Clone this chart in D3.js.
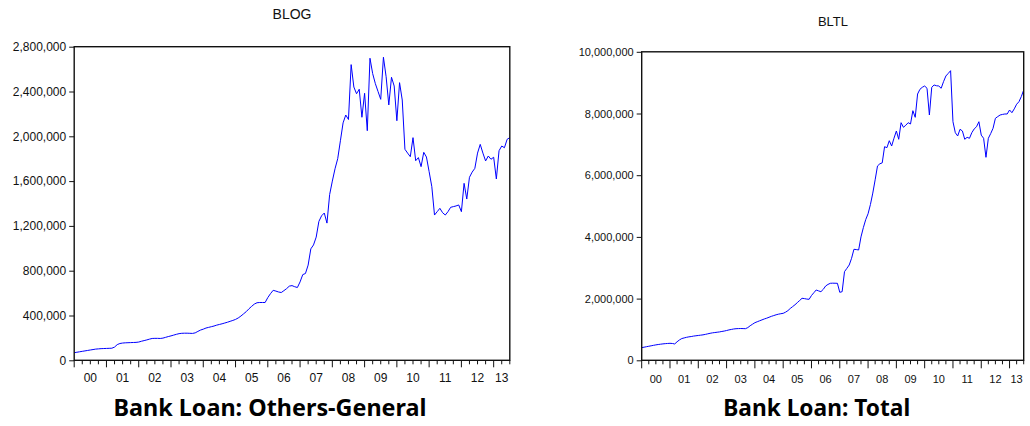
<!DOCTYPE html>
<html>
<head>
<meta charset="utf-8">
<script src="https://cdn.jsdelivr.net/npm/d3@7"></script>
<style>
  html, body { margin: 0; padding: 0; background: #fff; }
  svg { display: block; }
</style>
</head>
<body>
<svg id="chart" width="1030" height="426"></svg>
<script>
// Monthly series, Jan 2000 – Jul 2013 (163 observations)
const blog = [
  68000, 72000, 76000, 80000, 84000, 88000, 92000, 96000, 100000, 102000, 104000, 105000,
  106000, 107000, 108000, 118000, 140000, 150000, 154000, 156000, 157000, 158000, 159000, 160000,
  163000, 170000, 176000, 182000, 189000, 195000, 196000, 196000, 195000, 198000, 205000, 212000,
  218000, 225000, 232000, 238000, 241000, 242000, 242000, 241000, 240000, 245000, 258000, 270000,
  278000, 288000, 294000, 300000, 306000, 314000, 320000, 326000, 333000, 340000, 348000, 356000,
  365000, 378000, 395000, 415000, 435000, 460000, 482000, 502000, 514000, 516000, 516000, 516000,
  560000, 595000, 625000, 618000, 610000, 605000, 622000, 640000, 662000, 667000, 657000, 650000,
  700000, 765000, 775000, 850000, 995000, 1030000, 1100000, 1240000, 1290000, 1315000, 1225000, 1480000,
  1600000, 1710000, 1800000, 1960000, 2120000, 2190000, 2150000, 2640000, 2440000, 2380000, 2420000, 2170000,
  2384000, 2050000, 2697000, 2560000, 2470000, 2400000, 2330000, 2706000, 2532000, 2280000, 2527000, 2449000,
  2139000, 2479000, 2324000, 1884000, 1850000, 1818000, 1988000, 1782000, 1810000, 1729000, 1857000, 1815000,
  1684000, 1550000, 1297000, 1327000, 1357000, 1318000, 1297000, 1327000, 1366000, 1372000, 1378000, 1387000,
  1327000, 1580000, 1440000, 1634000, 1680000, 1714000, 1850000, 1928000, 1850000, 1780000, 1824000, 1795000,
  1813000, 1619000, 1871000, 1913000, 1898000, 1973000, 1988000
];

const bltl = [
  410000, 425000, 440000, 455000, 470000, 485000, 500000, 512000, 522000, 532000, 540000, 546000,
  551000, 545000, 530000, 600000, 660000, 705000, 725000, 745000, 760000, 770000, 785000, 795000,
  805000, 815000, 825000, 840000, 858000, 875000, 890000, 900000, 910000, 920000, 935000, 948000,
  965000, 985000, 1000000, 1015000, 1024000, 1028000, 1030000, 1028000, 1025000, 1060000, 1120000, 1170000,
  1219000, 1250000, 1280000, 1310000, 1340000, 1365000, 1395000, 1425000, 1450000, 1475000, 1495000, 1510000,
  1523000, 1560000, 1610000, 1680000, 1740000, 1800000, 1870000, 1940000, 2010000, 2000000, 1985000, 1977000,
  2100000, 2190000, 2279000, 2250000, 2224000, 2300000, 2408000, 2460000, 2496000, 2500000, 2498000, 2496000,
  2204000, 2224000, 2872000, 2980000, 3089000, 3306000, 3598000, 3590000, 3575000, 4000000, 4300000, 4560000,
  4750000, 5050000, 5420000, 5850000, 6300000, 6370000, 6400000, 6924000, 6892000, 7118000, 6946000, 7200000,
  7433000, 7164000, 7702000, 7553000, 7620000, 7702000, 7660000, 8091000, 7876000, 8632000, 8785000, 8850000,
  8891000, 8817000, 7951000, 8849000, 8924000, 8900000, 8891000, 8817000, 9031000, 9216000, 9300000, 9388000,
  7734000, 7378000, 7271000, 7488000, 7433000, 7164000, 7228000, 7196000, 7378000, 7500000, 7572000, 7734000,
  7300000, 7196000, 6580000, 7196000, 7350000, 7520000, 7844000, 7900000, 7951000, 7970000, 7984000, 7984000,
  8113000, 8026000, 8150000, 8300000, 8383000, 8550000, 8762000
];

const yearLabels = ["00", "01", "02", "03", "04", "05", "06", "07", "08", "09", "10", "11", "12", "13"];
const blogTicks = [0, 400000, 800000, 1200000, 1600000, 2000000, 2400000, 2800000];
const bltlTicks = [0, 2000000, 4000000, 6000000, 8000000, 10000000];

const svg = d3.select("#chart");

function drawPanel(cfg) {
  const g = svg.append("g");
  const n = cfg.values.length;

  const x = d3.scaleLinear().domain([0, n - 1]).range([cfg.left, cfg.right]);
  const y = d3.scaleLinear().domain([0, d3.max(cfg.ticks)]).range([cfg.bottom, cfg.top]);

  // series title
  g.append("text")
    .attr("x", cfg.titleX).attr("y", cfg.titleY)
    .attr("text-anchor", "middle")
    .attr("font-family", "'Liberation Sans', Arial, sans-serif")
    .attr("font-size", cfg.titleSize)
    .attr("fill", "#111")
    .text(cfg.title);

  // y axis ticks and labels
  const yAxis = d3.axisLeft(y)
    .tickValues(cfg.ticks)
    .tickFormat(d3.format(","))
    .tickSize(5)
    .tickPadding(3);
  const ya = g.append("g")
    .attr("transform", `translate(${cfg.left},0)`)
    .call(yAxis);
  ya.select(".domain").remove();
  ya.selectAll(".tick line").attr("stroke", "#111").attr("stroke-width", 1);
  ya.selectAll(".tick text")
    .attr("font-family", "'Liberation Sans', Arial, sans-serif")
    .attr("font-size", cfg.tickSize)
    .attr("fill", "#111");

  // x axis: yearly major ticks, quarterly minor ticks
  const quarterIdx = d3.range(0, n, 3);
  g.append("g").selectAll("line")
    .data(quarterIdx)
    .join("line")
    .attr("x1", d => x(d)).attr("x2", d => x(d))
    .attr("y1", cfg.bottom)
    .attr("y2", d => cfg.bottom + (d % 12 === 0 ? cfg.majorLen : 4))
    .attr("stroke", "#111")
    .attr("stroke-width", 1);

  g.append("g").selectAll("text")
    .data(yearLabels)
    .join("text")
    .attr("x", (d, i) => {
      const s = i * 12;
      const e = Math.min(s + 12, n - 1);
      return x((s + e) / 2);
    })
    .attr("y", cfg.yearY)
    .attr("text-anchor", "middle")
    .attr("font-family", "'Liberation Sans', Arial, sans-serif")
    .attr("font-size", cfg.tickSize)
    .attr("fill", "#111")
    .text(d => d);

  // series line
  const line = d3.line()
    .x((d, i) => x(i))
    .y(d => y(d));
  g.append("path")
    .datum(cfg.values)
    .attr("d", line)
    .attr("fill", "none")
    .attr("stroke", "#0000ff")
    .attr("stroke-width", 1)
    .attr("stroke-linejoin", "round");

  // plot frame
  g.append("rect")
    .attr("x", cfg.left).attr("y", cfg.top)
    .attr("width", cfg.right - cfg.left)
    .attr("height", cfg.bottom - cfg.top)
    .attr("fill", "none")
    .attr("stroke", "#111")
    .attr("stroke-width", 1.4);

  // caption under the panel
  g.append("text")
    .attr("x", cfg.captionX).attr("y", 416)
    .attr("text-anchor", "middle")
    .attr("font-family", "'Noto Sans', 'Open Sans', sans-serif")
    .attr("font-weight", 700)
    .attr("font-size", 23)
    .attr("fill", "#000")
    .attr("textLength", cfg.captionW)
    .attr("lengthAdjust", "spacingAndGlyphs")
    .text(cfg.caption);
}

drawPanel({
  values: blog, ticks: blogTicks,
  left: 74.2, right: 509.8, top: 46.7, bottom: 360.3,
  title: "BLOG", titleX: 292, titleY: 19, titleSize: 14,
  tickSize: 12, majorLen: 7, yearY: 381.5,
  caption: "Bank Loan: Others-General", captionX: 270, captionW: 313
});

drawPanel({
  values: bltl, ticks: bltlTicks,
  left: 641.7, right: 1023.7, top: 51.8, bottom: 360.3,
  title: "BLTL", titleX: 833, titleY: 25.5, titleSize: 13,
  tickSize: 11, majorLen: 8, yearY: 383,
  caption: "Bank Loan: Total", captionX: 816.7, captionW: 187
});
</script>
</body>
</html>
